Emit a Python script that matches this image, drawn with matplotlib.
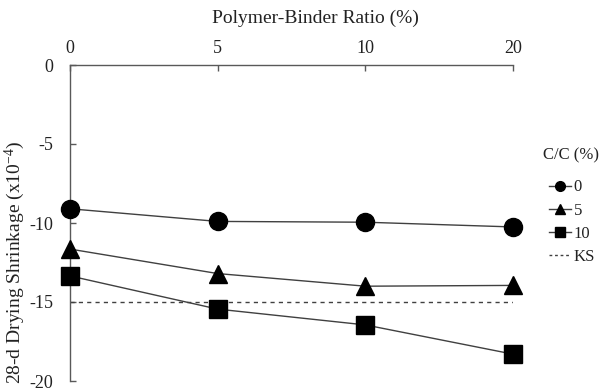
import matplotlib
matplotlib.use("Agg")
import matplotlib.pyplot as plt
from matplotlib.lines import Line2D

plt.rcParams['font.family'] = ['Liberation Serif', 'DejaVu Serif']
plt.rcParams['mathtext.fontset'] = 'custom'
plt.rcParams['mathtext.rm'] = 'Liberation Serif'
plt.rcParams['mathtext.it'] = 'Liberation Serif'
plt.rcParams['axes.unicode_minus'] = False

ratios = ['0', '5', '10', '20']
cc_labels = ['0', '5', '10']
shrink_cc0 = [-9.1, -9.9, -9.95, -10.25]
shrink_cc5 = [-11.65, -13.2, -14.0, -13.95]
shrink_cc10 = [-13.35, -15.45, -16.45, -18.3]
ks_limit = -15
yticks = [0, -5, -10, -15, -20]

series = [shrink_cc0, shrink_cc5, shrink_cc10]
markers = ['o', '^', 's']

W, H = 611, 392
fig = plt.figure(figsize=(W/100, H/100), dpi=100)
ax = fig.add_axes([70/W, 1-381/H, 443/W, 316/H])

x = list(range(len(ratios)))
line_color = '#404040'
for vals, m in zip(series, markers):
    ax.plot(x, vals, color=line_color, lw=1.0, marker=m, ms=13,
            mfc='black', mec='black', clip_on=False, zorder=3)
ax.axhline(ks_limit, color='#404040', lw=1.0, ls=(0, (3, 3)), zorder=2)

ax.set_xlim(0, len(ratios) - 1)
ax.set_ylim(-20, 0)
ax.set_xticks(x)
ax.set_xticklabels(ratios)
ax.set_yticks(yticks)
ax.set_yticklabels([str(v) for v in yticks])
ax.xaxis.tick_top()
ax.xaxis.set_label_position('top')
ax.tick_params(axis='x', direction='in', length=4, width=1, color='#595959',
               labelsize=13, pad=6, labelcolor='#222222')
ax.tick_params(axis='y', direction='in', length=4, width=1, color='#595959',
               labelsize=13, pad=12, labelcolor='#222222')
for s in ['right', 'bottom']:
    ax.spines[s].set_visible(False)
for s in ['left', 'top']:
    ax.spines[s].set_color('#595959')
    ax.spines[s].set_linewidth(1.0)

ax.set_xlabel('Polymer-Binder Ratio (%)', fontsize=14, color='#222222')
ax.xaxis.set_label_coords((315-70)/443, 1 + (65-23)/316)
ax.set_ylabel('28-d Drying Shrinkage (x10$^{-4}$)', fontsize=14, color='#222222')
ax.yaxis.set_label_coords((27-70)/443, (381-262)/316)

fig.text(571/W, 1-155/H, 'C/C (%)', ha='center', va='center',
         fontsize=12, color='#222222')

handles = [Line2D([], [], color=line_color, lw=1.0, marker=m, ms=7,
                  mfc='black', mec='black') for m in markers]
handles.append(Line2D([], [], color='#404040', lw=1.0, ls=(0, (2, 2))))
labels = cc_labels + ['KS']
leg = fig.legend(handles, labels, loc='upper left',
                 bbox_to_anchor=(546/W, 1-176/H), frameon=False,
                 fontsize=12, handlelength=1.3, borderaxespad=0,
                 handletextpad=0.15, labelspacing=0.43, borderpad=0.2)
for t in leg.get_texts():
    t.set_color('#222222')

fig.savefig('out.png', dpi=100)
